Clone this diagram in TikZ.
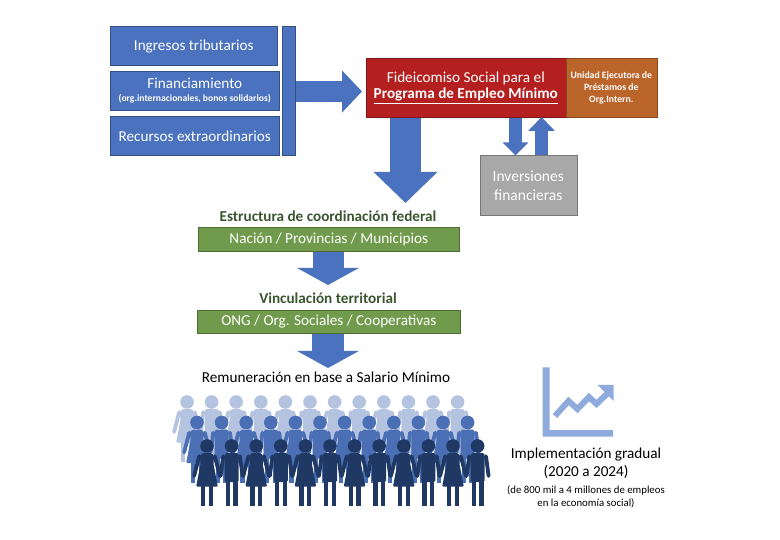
\documentclass[tikz,border=0pt]{standalone}
\usepackage{fontspec}
\setmainfont{Carlito}
\usetikzlibrary{arrows.meta,calc}
\definecolor{bblue}{HTML}{4A72BE}
\definecolor{rred}{HTML}{B3201F}
\definecolor{oor}{HTML}{BC652B}
\definecolor{ggreen}{HTML}{719B4C}
\definecolor{ggray}{HTML}{A8A8A8}
\definecolor{hgreen}{HTML}{3A5530}
\definecolor{plight}{HTML}{B4C3E0}
\definecolor{pmid}{HTML}{4A6FB5}
\definecolor{pdark}{HTML}{1F3864}
\definecolor{chartc}{HTML}{8FAADC}
\tikzset{
  x=1pt,y=-1pt,
  box/.style={rectangle,inner sep=0pt,text=white,align=center,draw=#1!70!black,line width=.6pt,fill=#1,anchor=north west},
  body/.style={font=\fontsize{15.2}{17}\selectfont},
  blockarrow/.style n args={3}{draw=bblue,line width=#1pt,-{Triangle[width=#2pt,length=#3pt,fill=bblue]}},
  plain/.style={inner sep=0pt,align=center},
  pics/woman/.style={code={
    \fill[#1] (0,0) circle (6.8);
    \fill[#1,rounded corners=1pt] (-4.5,7.2) -- (4.5,7.2) -- (7,9.5) -- (6.5,18) -- (10.8,40.5) -- (-10.8,40.5) -- (-6.5,18) -- (-7,9.5) -- cycle;
    \draw[#1,line width=3.8pt,line cap=round] (-7.8,10.2) -- (-12.9,30);
    \draw[#1,line width=3.8pt,line cap=round] (7.8,10.2) -- (12.9,30);
    \fill[#1] (-6,39) rectangle (-1.7,60);
    \fill[#1] (1.7,39) rectangle (6,60);
  }},
  pics/man/.style={code={
    \fill[#1] (0,0) circle (6.8);
    \fill[#1,rounded corners=1.5pt] (-7,7.2) rectangle (7,36);
    \draw[#1,line width=3.8pt,line cap=round] (-8.4,10.2) -- (-11,30);
    \draw[#1,line width=3.8pt,line cap=round] (8.4,10.2) -- (11,30);
    \fill[#1] (-6,34) rectangle (-1.7,60);
    \fill[#1] (1.7,34) rectangle (6,60);
  }},
}
\begin{document}
\begin{tikzpicture}
\useasboundingbox[fill=white] (0,0) rectangle (780,540);
% source boxes
\node[box=bblue,body,minimum width=167pt,minimum height=39pt] (ing) at (110,26.5) {Ingresos tributarios};
\node[box=bblue,minimum width=169pt,minimum height=39pt] (fin) at (110,71) {{\fontsize{15.2}{15}\selectfont Financiamiento}\\[1pt]{\fontsize{9.6}{10}\selectfont\bfseries (org.internacionales, bonos solidarios)}};
\node[box=bblue,body,minimum width=169pt,minimum height=38.5pt] (rec) at (110,116.5) {Recursos extraordinarios};
\node[box=bblue,minimum width=13pt,minimum height=129pt] (bar) at (282,26.5) {};
% trust
\node[box=rred,minimum width=200pt,minimum height=59pt] (fid) at (365.5,58) {{\fontsize{15.2}{17}\selectfont Fideicomiso Social para el}\\[2pt]{\fontsize{15.2}{17}\selectfont\bfseries\underline{Programa de Empleo Mínimo}}};
\node[box=oor,minimum width=91pt,minimum height=59pt,font=\fontsize{9.7}{12}\selectfont\bfseries] (uni) at (565.5,58) {Unidad Ejecutora de\\Préstamos de\\Org.Intern.};
\node[box=ggray,minimum width=97pt,minimum height=60pt,font=\fontsize{15.5}{19}\selectfont] (inv) at (479.5,155.5) {Inversiones\\financieras};
% coordination
\node[plain,font=\fontsize{15.2}{17}\selectfont\bfseries,text=hgreen] (est) at (328,216) {Estructura de coordinación federal};
\node[box=ggreen,body,minimum width=261pt,minimum height=23.5pt] (nac) at (198,227.5) {Nación / Provincias / Municipios};
\node[plain,font=\fontsize{15.2}{17}\selectfont\bfseries,text=hgreen] (vin) at (328,298) {Vinculación territorial};
\node[box=ggreen,body,minimum width=263pt,minimum height=23pt] (ong) at (197,310) {ONG / Org. Sociales / Cooperativas};
\node[plain,body] (rem) at (326,377.5) {Remuneración en base a Salario Mínimo};
% block arrows
\coordinate (t0) at (362,91.5);
\coordinate (t1) at (405.5,203);
\coordinate (t2) at (515.5,155.5);
\coordinate (t3) at (541.5,117);
\coordinate (t4) at (328,285);
\coordinate (t5) at (328,368);
\draw[blockarrow={21}{41}{20}] (bar.east |- t0) -- (t0);
\draw[blockarrow={31}{62}{31}] (fid.south -| t1) -- (t1);
\draw[blockarrow={13}{25}{13}] (fid.south -| t2) -- (t2);
\draw[blockarrow={13}{26}{14}] (inv.north -| t3) -- (t3);
\draw[blockarrow={31}{61}{17}] (nac.south -| t4) -- (t4);
\draw[blockarrow={32}{61}{17}] (ong.south -| t5) -- (t5);
% people
\foreach \i in {0,...,11}{
  \pgfmathsetmacro{\xx}{187+24.6*\i}
  \pgfmathtruncatemacro{\odd}{mod(\i,2)}
  \ifnum\odd=0 \pic at (\xx,402) {woman=plight}; \else \pic at (\xx,402) {man=plight}; \fi
}
\foreach \i in {0,...,11}{
  \pgfmathsetmacro{\xx}{197+24.6*\i}
  \pgfmathtruncatemacro{\odd}{mod(\i,2)}
  \ifnum\odd=0 \pic at (\xx,422.5) {woman=pmid}; \else \pic at (\xx,422.5) {man=pmid}; \fi
}
\foreach \i in {0,...,11}{
  \pgfmathsetmacro{\xx}{207+24.6*\i}
  \pgfmathtruncatemacro{\odd}{mod(\i,2)}
  \ifnum\odd=0 \pic at (\xx,446) {woman=pdark}; \else \pic at (\xx,446) {man=pdark}; \fi
}
% chart icon
\fill[chartc] (542.5,367.5) -- (549.5,367.5) -- (549.5,430) -- (613,430) -- (613,436.5) -- (542.5,436.5) -- cycle;
\draw[chartc,line width=6pt,line join=miter] (555,416) -- (568.5,401) -- (577.5,409) -- (589,397) -- (596.5,404) -- (610,391);
\fill[chartc] (597.5,385) -- (613.5,385) -- (613.5,401) -- cycle;
% implementation text
\node[plain,font=\fontsize{15.2}{17.5}\selectfont] (imp) at (586,463.5) {Implementación gradual\\(2020 a 2024)};
\node[plain,font=\fontsize{10.8}{13}\selectfont] (emp) at (586,496.5) {(de 800 mil a 4 millones de empleos\\en la economía social)};
\end{tikzpicture}
\end{document}
